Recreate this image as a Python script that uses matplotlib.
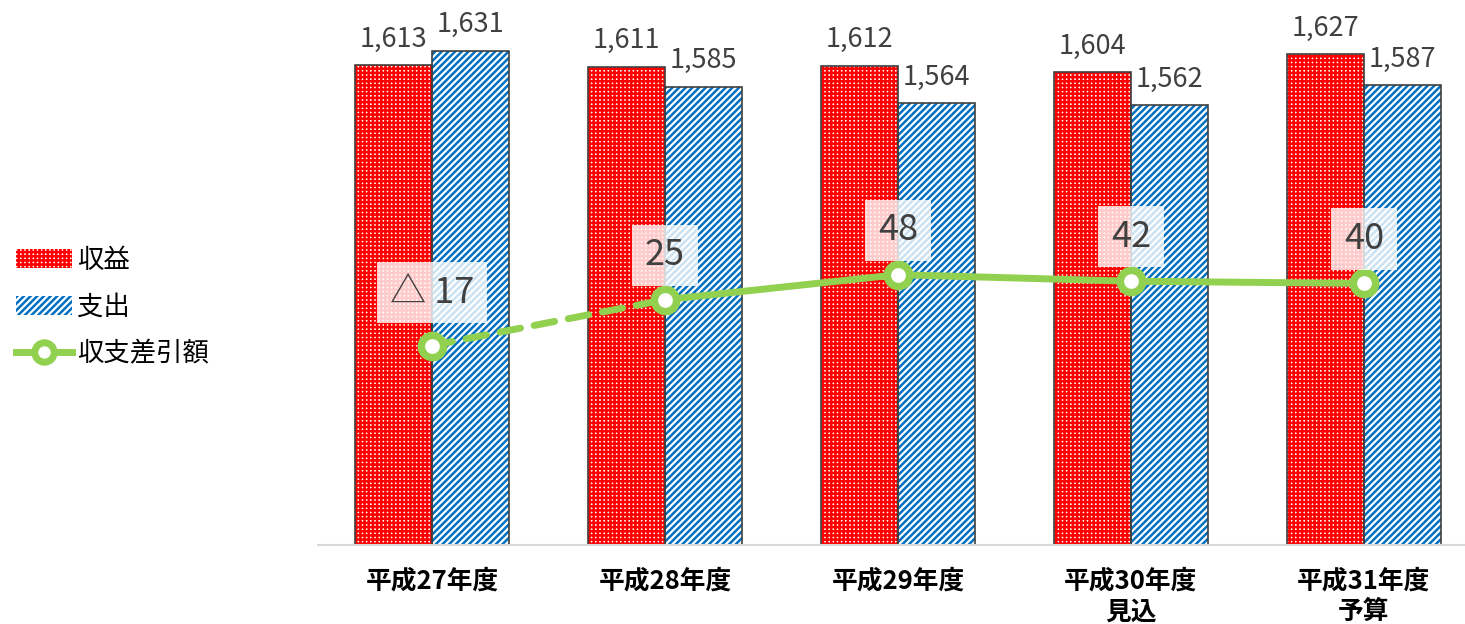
import numpy as np
import matplotlib
matplotlib.use('Agg')
import matplotlib.pyplot as plt
from matplotlib.patches import Patch
from matplotlib.lines import Line2D

plt.rcParams['font.family'] = ['Noto Sans CJK JP', 'DejaVu Sans']
plt.rcParams['hatch.linewidth'] = 1.8

# data
categories = ['平成27年度', '平成28年度', '平成29年度', '平成30年度\n見込', '平成31年度\n予算']
revenue = [1613, 1611, 1612, 1604, 1627]
expense = [1631, 1585, 1564, 1562, 1587]
balance = [-17, 25, 48, 42, 40]
balance_labels = ['△ 17', '25', '48', '42', '40']

red = '#ff0000'
blue = '#0070c0'
green = '#92d050'
edge = '#404040'

fig = plt.figure(figsize=(14.65, 6.24), dpi=100)
ax = fig.add_axes([318 / 1465, 79 / 624, 1147 / 1465, 545 / 624])

x = np.arange(len(categories))
w = 0.33

# hatched fills, then outlines
b1 = ax.bar(x - w / 2, revenue, w, color='white', edgecolor=red, hatch='++++', lw=0)
b2 = ax.bar(x + w / 2, expense, w, color='white', edgecolor=blue, hatch='/////', lw=0)
ax.bar(x - w / 2, revenue, w, fill=False, edgecolor=edge, lw=1.2)
ax.bar(x + w / 2, expense, w, fill=False, edgecolor=edge, lw=1.2)

ax.bar_label(b1, labels=[f'{v:,}' for v in revenue], padding=9, fontsize=19.5, color='#404040')
ax.bar_label(b2, labels=[f'{v:,}' for v in expense], padding=9, fontsize=19.5, color='#404040')

ax.set_ylim(1000, 1696)
ax.set_xlim(-0.489, 4.434)
ax.set_yticks([])
ax.set_xticks(x)
ax.set_xticklabels(categories, fontsize=18.5, color='black', fontweight='bold', linespacing=1.2)
ax.tick_params(axis='x', length=0, pad=16)
for s in ['top', 'right', 'left']:
    ax.spines[s].set_visible(False)
ax.spines['bottom'].set_color('#d9d9d9')
ax.spines['bottom'].set_linewidth(1.5)

# difference line on secondary axis
ax2 = ax.twinx()
ax2.set_ylim(-200, 300)
ax2.axis('off')
ax2.plot(x[:2], balance[:2], color=green, lw=5, linestyle=(0, (3, 2)), dash_capstyle='round')
ax2.plot(x[1:], balance[1:], color=green, lw=5, solid_capstyle='round')
ax2.plot(x, balance, linestyle='none', marker='o', ms=16, mew=5.4,
         mfc='white', mec=green, zorder=5)
for xi, v, lab in zip(x, balance, balance_labels):
    off = 38 if v < 0 else 32
    ax2.annotate(lab, (xi, v), xytext=(0, off), textcoords='offset points',
                 ha='center', va='center', fontsize=26, color='#404040',
                 bbox=dict(boxstyle='square,pad=0.35', fc='white', ec='none', alpha=0.8),
                 zorder=6)

handles = [
    Patch(facecolor='white', edgecolor=red, hatch='++++', lw=0),
    Patch(facecolor='white', edgecolor=blue, hatch='/////', lw=0),
    Line2D([0], [0], color=green, lw=5, marker='o', ms=14, mew=5,
           mfc='white', mec=green),
]
leg = fig.legend(handles, ['収益', '支出', '収支差引額'], loc='center left',
                 bbox_to_anchor=(-0.005, 0.508), frameon=False, fontsize=19,
                 handlelength=2.1, handletextpad=0.2, labelspacing=0.75)

fig.savefig('out.png', dpi=100)
